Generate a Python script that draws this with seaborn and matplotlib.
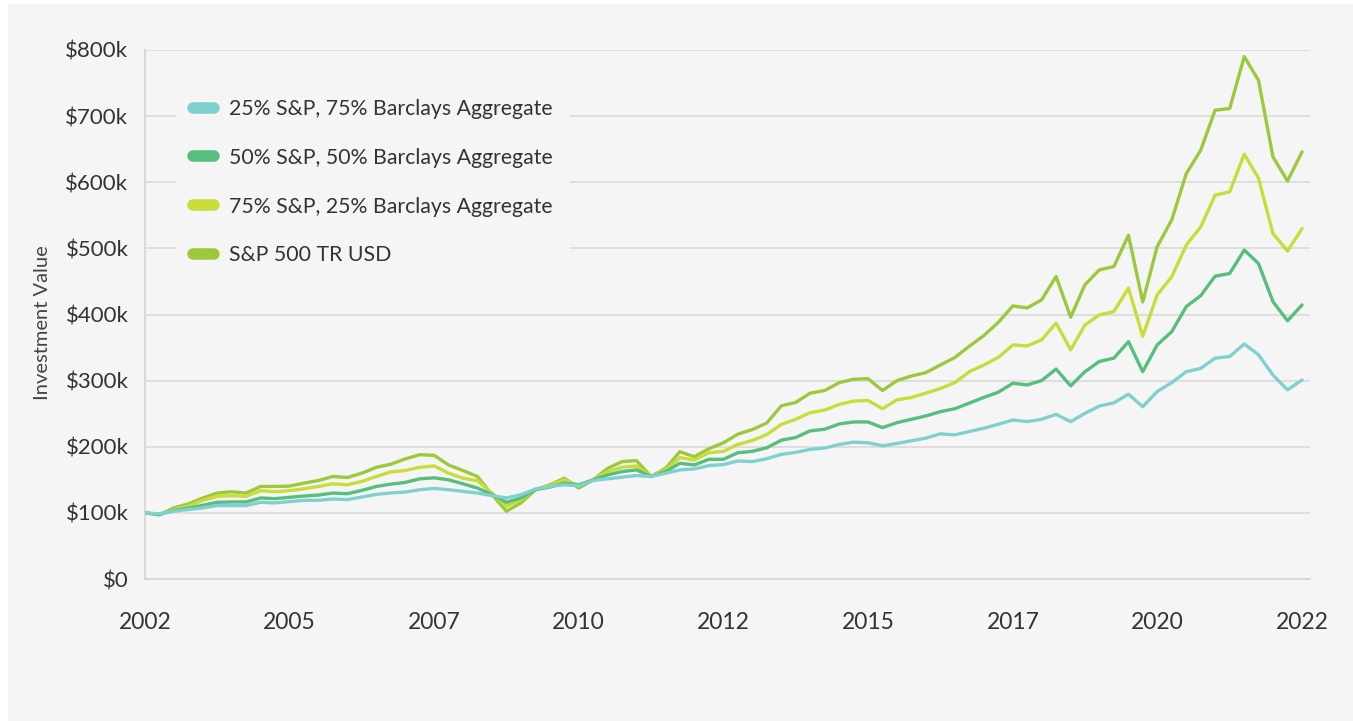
import numpy as np
import pandas as pd
import matplotlib
matplotlib.use("Agg")
import matplotlib.pyplot as plt
import seaborn as sns
from matplotlib.lines import Line2D
from matplotlib.patches import Rectangle


# quarterly observations, values in $ thousands
dates = pd.date_range("2002-01-01", "2022-01-01", freq="QS")

year_labels = ["2002", "2005", "2007", "2010", "2012", "2015", "2017", "2020", "2022"]

mix25 = [100, 98.5, 102.5, 105, 107.5, 111, 111, 111, 116, 115, 117, 119, 119, 121, 120, 124, 128, 130, 131.5, 135, 137,
         135, 132.5, 130, 126, 122.5, 127.5, 136, 140, 142.5, 141, 149, 151.5, 154, 156.5, 155, 160, 165, 166.5, 171.5,
         173, 178.5, 177.5, 182, 188.5, 191.5, 196, 198, 203.5, 207, 206, 201.5, 205, 209, 213, 219.5, 218, 223, 228, 234,
         240.5, 238, 241.5, 249, 238, 250.5, 261.5, 266.5, 279.5, 260.5, 283.5, 297, 313.5, 318.5, 334, 336.5, 355.5, 339,
         308.5, 286, 301]

mix50 = [100, 97.5, 103.5, 107, 111.5, 116, 116.5, 116.5, 122.5, 121.5, 123.5, 125.5, 127, 130, 129, 134, 140, 143.5, 146,
         151.5, 153,
         150, 144, 137.5, 127.5, 116, 122.5, 135, 139, 145, 142.5, 150, 157.5, 162.5, 165, 155, 162.5, 175, 172.5, 181,
         181, 191, 193, 198.5, 210, 214, 224, 226.5, 234.5, 237.5, 237.5, 229, 236.5, 241.5, 246.5, 253, 257.5, 266,
         274.5, 282.5,
         296, 293.5, 300, 317.5, 292, 313.5, 329, 334, 359, 313.5, 354, 374, 412, 428.5, 458, 462, 497.5, 477, 419.5,
         390.5, 414.5]

mix75 = [100, 97.5, 105, 110, 119, 125, 126, 125, 133.5, 132, 133.5, 136.5, 140, 144, 142.5, 147.5, 155, 162, 164, 169, 171,
         160, 152.5, 148.5, 130, 110, 120, 136, 141, 150, 141, 150, 162.5, 169, 171, 155, 165, 183.5, 180, 191,
         193, 203.5, 209.5, 218.5, 234, 241.5, 251.5, 255.5, 264, 269, 270, 257.5, 271, 274.5, 281, 288, 297, 313.5,
         323.5, 335,
         354, 352.5, 361.5, 387, 346.5, 384, 399.5, 404.5, 440, 367, 429.5, 457, 505, 532.5, 580.5, 585.5, 642.5, 606,
         522.5, 496, 530]

sp500 = [100, 97, 107.5, 113.5, 122.5, 130, 132, 130, 140, 140, 140.5, 145, 149, 155, 153.5, 160, 169, 173.5, 181.5, 188,
         187,
         172.5, 164, 155, 127.5, 102.5, 115, 135, 142.5, 152.5, 137.5, 150, 167.5, 177.5, 179, 155, 167.5, 192.5, 185, 197,
         206, 219, 226, 236, 262, 267, 281, 285, 297, 302, 303, 285, 300, 307, 312, 323.5, 335, 352, 368, 388,
         413, 410, 422, 457.5, 396, 445, 467.5, 472.5, 520, 419, 502.5, 543, 613, 648.5, 709, 711.5, 790, 754, 638.5,
         602, 646]

series_names = [
    "25% S&P, 75% Barclays Aggregate",
    "50% S&P, 50% Barclays Aggregate",
    "75% S&P, 25% Barclays Aggregate",
    "S&P 500 TR USD",
]
series_values = [mix25, mix50, mix75, sp500]

colors = {
    series_names[0]: "#80d0cf",  # teal
    series_names[1]: "#57be7d",  # green
    series_names[2]: "#c8dc3a",  # yellow green
    series_names[3]: "#9cc93c",  # lime
}

frames = []
for name, vals in zip(series_names, series_values):
    frames.append(pd.DataFrame({"Date": dates, "Value": vals, "Portfolio": name}))
data = pd.concat(frames, ignore_index=True)

sns.set_style("white")
plt.rcParams["font.family"] = ["Lato", "DejaVu Sans"]

bg = "#f5f5f5"
W, H = 1353, 721
fig = plt.figure(figsize=(W / 100, H / 100), dpi=100, facecolor="white")
fig.add_artist(Rectangle((8 / W, 0), 1, 1 - 4 / H, transform=fig.transFigure,
                         facecolor=bg, edgecolor="none", zorder=-10))
ax = fig.add_axes([145 / W, 1 - 579 / H, (1310 - 145) / W, (579 - 50) / H])
ax.set_facecolor(bg)

sns.lineplot(data=data, x="Date", y="Value", hue="Portfolio", hue_order=series_names,
             palette=colors, linewidth=2.4, legend=False, ax=ax)
for i, line in enumerate(ax.lines):
    line.set_zorder(10 - i)
    line.set_solid_capstyle("round")
    line.set_solid_joinstyle("round")

ax.set_ylim(0, 800)
ax.set_yticks(np.arange(0, 801, 100))
ax.yaxis.set_major_formatter(lambda v, p: "$0" if v == 0 else f"${v:.0f}k")
ax.set_xticks(dates[::10])
ax.set_xticklabels(year_labels)
ax.set_xlim(dates[0], dates[-1] + pd.Timedelta(days=50))

ax.grid(axis="y", color="#dcdcdc", linewidth=1.3)
ax.grid(axis="x", visible=False)
for side in ["top", "right"]:
    ax.spines[side].set_visible(False)
for side in ["left", "bottom"]:
    ax.spines[side].set_color("#d6d6d6")
    ax.spines[side].set_linewidth(1.3)
ax.tick_params(axis="both", length=0, colors="#333333")
ax.tick_params(axis="y", pad=12, labelsize=16)
ax.tick_params(axis="x", pad=23.5, labelsize=16.5)

ax.set_xlabel("")
ax.set_ylabel("Investment Value", fontsize=14.5, color="#444444")
ax.yaxis.set_label_coords(-0.0807, 0.484)

handles = [Line2D([0], [0], color=colors[n], linewidth=8.3, solid_capstyle="round") for n in series_names]
leg = ax.legend(handles, series_names, loc="upper left",
                bbox_to_anchor=(176 / W, 1 - 82 / H), bbox_transform=fig.transFigure,
                frameon=True, facecolor=bg, edgecolor="none", framealpha=1, fancybox=False,
                fontsize=15.3, labelspacing=1.355, handlelength=1.01, handletextpad=0.68,
                borderpad=0.8, borderaxespad=0)
for t in leg.get_texts():
    t.set_color("#333333")

fig.savefig("out.png", dpi=100, facecolor=fig.get_facecolor())
